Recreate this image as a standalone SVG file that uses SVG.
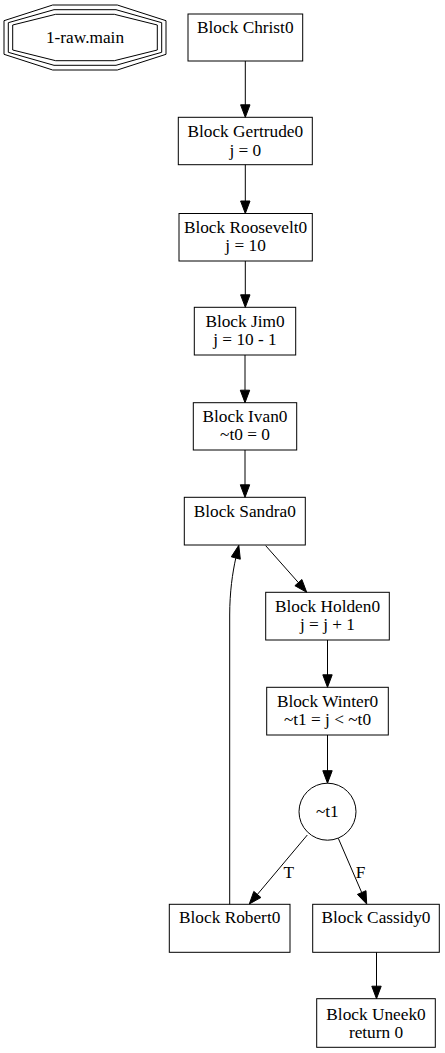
<svg xmlns="http://www.w3.org/2000/svg" width="445" height="1053" viewBox="0 0 445 1053" font-family="'Liberation Serif', 'Times New Roman', Tinos, 'DejaVu Serif', serif">
<style>
.n{fill:#fff;stroke:#000;stroke-width:1}
.o{fill:none;stroke:#000;stroke-width:1}
.e{fill:none;stroke:#000;stroke-width:1}
.a{fill:#000;stroke:#000;stroke-width:1}
.t{font-family:'Liberation Serif', 'Times New Roman', Tinos, 'DejaVu Serif', serif;font-size:17.3px;fill:#000;text-anchor:middle}
</style>
<rect x="0" y="0" width="445" height="1053" fill="#fff"/>
<g id="main">
<polygon class="o" points="117.3,5 166,20.7 166,54.3 117.3,70 52.7,70 4,54.3 4,20.7 52.7,5"/>
<polygon class="o" points="116,9.7 161.7,22.7 161.7,52.3 116,65.3 54,65.3 8.3,52.3 8.3,22.7 54,9.7"/>
<polygon class="o" points="114.3,14.3 157.3,25 157.3,50 114.3,60.7 55.7,60.7 12.7,50 12.7,25 55.7,14.3"/>
<text class="t" x="85" y="42.7">1-raw.main</text>
</g>
<g id="Christ0">
<rect class="n" x="188" y="14" width="114.7" height="47"/>
<text class="t" x="245.3" y="33">Block Christ0</text>
</g>
<g id="Gertrude0">
<rect class="n" x="178.3" y="117.3" width="134" height="47.4"/>
<text class="t" x="245.3" y="137">Block Gertrude0</text>
<text class="t" x="245.3" y="155.5">j = 0</text>
</g>
<g id="Roosevelt0">
<rect class="n" x="179" y="213.5" width="133.3" height="47.5"/>
<text class="t" x="245.6" y="232.7">Block Roosevelt0</text>
<text class="t" x="245.6" y="250.5">j = 10</text>
</g>
<g id="Jim0">
<rect class="n" x="194.3" y="307.3" width="101.4" height="47.7"/>
<text class="t" x="245" y="326.7">Block Jim0</text>
<text class="t" x="245" y="345">j = 10 - 1</text>
</g>
<g id="Ivan0">
<rect class="n" x="193.3" y="402.7" width="103.4" height="47.3"/>
<text class="t" x="245" y="421.7">Block Ivan0</text>
<text class="t" x="245" y="440">~t0 = 0</text>
</g>
<g id="Sandra0">
<rect class="n" x="184.3" y="497.3" width="121" height="47.7"/>
<text class="t" x="244.8" y="516.7">Block Sandra0</text>
</g>
<g id="Holden0">
<rect class="n" x="265.7" y="592.3" width="123.6" height="47.7"/>
<text class="t" x="327.5" y="611.7">Block Holden0</text>
<text class="t" x="327.5" y="630">j = j + 1</text>
</g>
<g id="Winter0">
<rect class="n" x="266.7" y="687.3" width="121.6" height="47.7"/>
<text class="t" x="327.5" y="706.7">Block Winter0</text>
<text class="t" x="327.5" y="725">~t1 = j &lt; ~t0</text>
</g>
<g id="t1">
<circle class="n" cx="327.5" cy="811.7" r="28.5"/>
<text class="t" x="327.3" y="816.7">~t1</text>
</g>
<g id="Robert0">
<rect class="n" x="169.3" y="904.3" width="120.7" height="48"/>
<text class="t" x="229.7" y="923.3">Block Robert0</text>
</g>
<g id="Cassidy0">
<rect class="n" x="312.7" y="904.3" width="126.6" height="48"/>
<text class="t" x="376" y="923.3">Block Cassidy0</text>
</g>
<g id="Uneek0">
<rect class="n" x="316.7" y="998.7" width="118.6" height="48.6"/>
<text class="t" x="376" y="1020">Block Uneek0</text>
<text class="t" x="376" y="1037.7">return 0</text>
</g>
<g id="connectors">
<path class="e" d="M245.3,61 L245.3,105"/>
<polygon class="a" points="240.6,104.8 250,104.8 245.3,117.3"/>
<path class="e" d="M245.3,164.7 L245.3,201"/>
<polygon class="a" points="240.6,201 250,201 245.3,213.5"/>
<path class="e" d="M245.3,261 L245.3,295"/>
<polygon class="a" points="240.6,294.8 250,294.8 245.3,307.3"/>
<path class="e" d="M245,355 L245,390"/>
<polygon class="a" points="240.3,390.2 249.7,390.2 245,402.7"/>
<path class="e" d="M245,450 L245,485"/>
<polygon class="a" points="240.3,484.8 249.7,484.8 245,497.3"/>
<path class="e" d="M265.7,545.7 L298.4,582.6"/>
<polygon class="a" points="294.9,585.7 301.9,579.5 306.7,592.3"/>
<path class="e" d="M327.5,640 L327.5,675"/>
<polygon class="a" points="322.8,674.8 332.2,674.8 327.5,687.3"/>
<path class="e" d="M327.5,735 L327.5,771"/>
<polygon class="a" points="322.8,770.7 332.2,770.7 327.5,783.2"/>
<path class="e" d="M307.3,835 L257.4,894.4"/>
<polygon class="a" points="260.9,897.5 253.8,891.4 249.3,904"/>
<text class="t" x="288.7" y="878">T</text>
<path class="e" d="M338.3,838.3 L361.7,892.5"/>
<polygon class="a" points="357.4,894.4 366,890.7 366.7,904"/>
<text class="t" x="360.5" y="878">F</text>
<path class="e" d="M376.5,952.3 L376.5,987"/>
<polygon class="a" points="371.8,986.2 381.2,986.2 376.5,998.7"/>
<path class="e" d="M229.7,904.3 L229.7,615 C229.7,592 232.5,573 235.8,558"/>
<polygon class="a" points="231.3,556.8 240.3,559.2 238.8,545.3"/>
</g>
</svg>
